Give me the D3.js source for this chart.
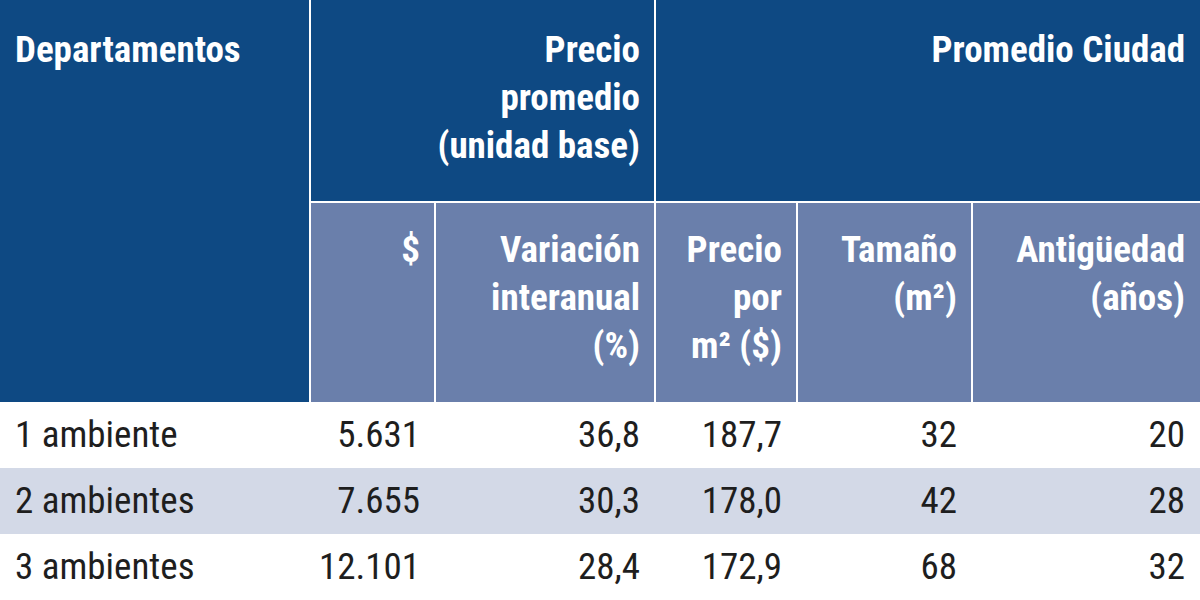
<!DOCTYPE html><html><head><meta charset="utf-8">
<script src="https://cdn.jsdelivr.net/npm/d3@7"></script>
<style>body{margin:0;background:#fff}</style></head><body><svg id="c" width="1200" height="600"></svg>
<script>
const categories=["1 ambiente","2 ambientes","3 ambientes"];
const precio=["5.631","7.655","12.101"];
const variacion=["36,8","30,3","28,4"];
const precioM2=["187,7","178,0","172,9"];
const tamano=["32","42","68"];
const antiguedad=["20","28","32"];
const groupHeaders=[{lines:["Departamentos"],x0:0,x1:310,align:"start"},{lines:["Precio","promedio","(unidad base)"],x0:310,x1:655},{lines:["Promedio Ciudad"],x0:655,x1:1200}];
const subHeaders=[{lines:["$"],x0:310,x1:435},{lines:["Variación","interanual","(%)"],x0:435,x1:655},{lines:["Precio","por","m² ($)"],x0:655,x1:797},{lines:["Tamaño","(m²)"],x0:797,x1:972},{lines:["Antigüedad","(años)"],x0:972,x1:1200}];
const cols=[categories,precio,variacion,precioM2,tamano,antiguedad];
const colX=[[0,310],[310,435],[435,655],[655,797],[797,972],[972,1200]];
const svg=d3.select("#c");
const font="'Liberation Sans Narrow','Roboto Condensed','Roboto',sans-serif";
const dark="#0e4983", light="#6a7fab", band="#d3d9e7";
const y=d3.scaleBand().domain(d3.range(3)).range([402,600]);
// header backgrounds
svg.append("rect").attr("x",0).attr("y",0).attr("width",1200).attr("height",402).attr("fill",dark);
subHeaders.forEach(h=>svg.append("rect").attr("x",h.x0).attr("y",202).attr("width",h.x1-h.x0).attr("height",200).attr("fill",light));
// separators
[310,655].forEach(x=>svg.append("line").attr("x1",x).attr("x2",x).attr("y1",0).attr("y2",402).attr("stroke","#fff").attr("stroke-width",2));
[435,797,972].forEach(x=>svg.append("line").attr("x1",x).attr("x2",x).attr("y1",202).attr("y2",402).attr("stroke","#fff").attr("stroke-width",2));
svg.append("line").attr("x1",310).attr("x2",1200).attr("y1",202).attr("y2",202).attr("stroke","#fff").attr("stroke-width",2);
function hdr(h,top){h.lines.forEach((l,i)=>{svg.append("text").attr("x",h.align==="start"?15:h.x1-15).attr("y",top+i*48)
 .attr("text-anchor",h.align==="start"?"start":"end").attr("fill","#fff").attr("font-family",font).attr("font-weight","bold").attr("font-size",37).text(l);});}
groupHeaders.forEach(h=>hdr(h,62));
subHeaders.forEach(h=>hdr(h,262));
// rows
d3.range(3).forEach(r=>{
 svg.append("rect").attr("x",0).attr("y",y(r)).attr("width",1200).attr("height",y.bandwidth()).attr("fill",r===1?band:"#fff");
 cols.forEach((c,ci)=>{const [x0,x1]=colX[ci];
  svg.append("text").attr("x",ci===0?15:x1-15).attr("y",y(r)+y.bandwidth()/2+12).attr("text-anchor",ci===0?"start":"end")
  .attr("fill","#1e1e1e").attr("font-family",font).attr("font-size",37).text(c[r]);});
});
</script></body></html>
